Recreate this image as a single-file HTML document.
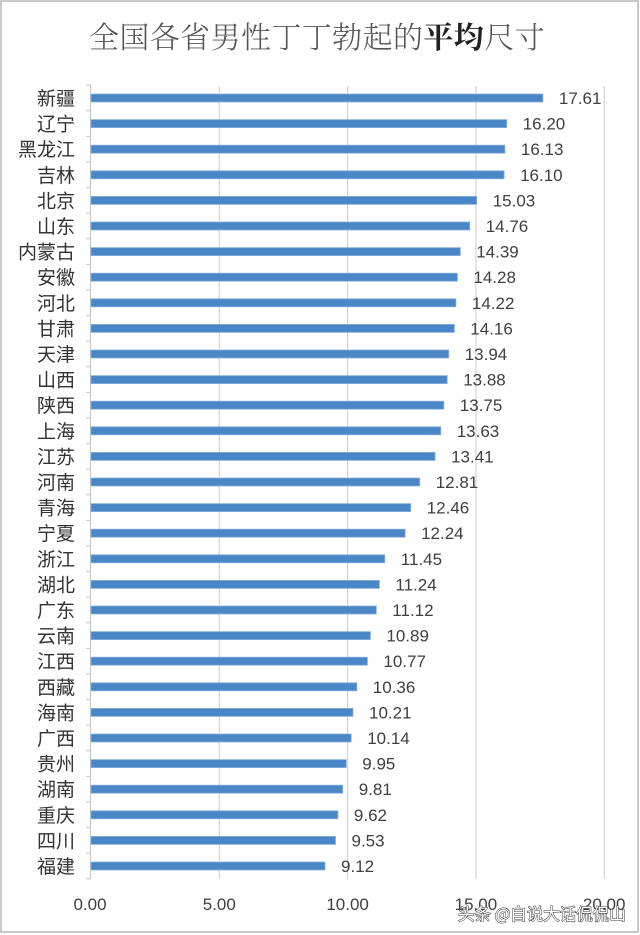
<!DOCTYPE html>
<html><head><meta charset="utf-8"><style>
html,body{margin:0;padding:0;background:#fff;}
svg{display:block;}
text{font-family:"Liberation Sans","Noto Sans CJK SC",sans-serif;}
.c{font-family:"Noto Sans CJK SC",sans-serif;font-size:19px;fill:#333;text-anchor:end;}
.v{font-size:17px;fill:#404040;}
.b{fill:#4a86c8;stroke:#86b1de;stroke-width:0.8;}
.t{stroke:#c4c4c4;stroke-width:1;}
</style></head><body>
<svg width="640" height="935" viewBox="0 0 640 935" xmlns="http://www.w3.org/2000/svg">
<rect x="0" y="0" width="640" height="935" fill="#ffffff"/>
<rect x="1" y="1" width="637" height="931" fill="none" stroke="#c9c9c9" stroke-width="2"/>
<text x="317" y="48" text-anchor="middle" font-size="30" fill="#555" style="font-family:'Noto Serif CJK SC','Noto Sans CJK SC',serif;letter-spacing:0.4px;font-weight:300">全国各省男性丁丁勃起的<tspan fill="#222" font-weight="700">平均</tspan>尺寸</text>
<g stroke="#d6d6d6" stroke-width="1.2">
<line x1="219.3" y1="86" x2="219.3" y2="879"/>
<line x1="347.6" y1="86" x2="347.6" y2="879"/>
<line x1="475.9" y1="86" x2="475.9" y2="879"/>
<line x1="604.2" y1="86" x2="604.2" y2="879"/>
</g>
<line x1="90.5" y1="85" x2="90.5" y2="879" stroke="#c4c4c4" stroke-width="1"/>

<g transform="translate(0,98)"><line class="t" x1="86" y1="-12.8" x2="90.5" y2="-12.8"/><rect class="b" x="91" y="-4" width="451.9" height="8"/><text class="v" x="558.9" y="6">17.61</text><text class="c" x="75" y="7">新疆</text></g>
<g transform="translate(0,123.6)"><line class="t" x1="86" y1="-12.8" x2="90.5" y2="-12.8"/><rect class="b" x="91" y="-4" width="415.7" height="8"/><text class="v" x="522.7" y="6">16.20</text><text class="c" x="75" y="7">辽宁</text></g>
<g transform="translate(0,149.2)"><line class="t" x1="86" y1="-12.8" x2="90.5" y2="-12.8"/><rect class="b" x="91" y="-4" width="413.9" height="8"/><text class="v" x="520.9" y="6">16.13</text><text class="c" x="75" y="7">黑龙江</text></g>
<g transform="translate(0,174.8)"><line class="t" x1="86" y1="-12.8" x2="90.5" y2="-12.8"/><rect class="b" x="91" y="-4" width="413.1" height="8"/><text class="v" x="520.1" y="6">16.10</text><text class="c" x="75" y="7">吉林</text></g>
<g transform="translate(0,200.4)"><line class="t" x1="86" y1="-12.8" x2="90.5" y2="-12.8"/><rect class="b" x="91" y="-4" width="385.7" height="8"/><text class="v" x="492.7" y="6">15.03</text><text class="c" x="75" y="7">北京</text></g>
<g transform="translate(0,226)"><line class="t" x1="86" y1="-12.8" x2="90.5" y2="-12.8"/><rect class="b" x="91" y="-4" width="378.7" height="8"/><text class="v" x="485.7" y="6">14.76</text><text class="c" x="75" y="7">山东</text></g>
<g transform="translate(0,251.6)"><line class="t" x1="86" y1="-12.8" x2="90.5" y2="-12.8"/><rect class="b" x="91" y="-4" width="369.3" height="8"/><text class="v" x="476.2" y="6">14.39</text><text class="c" x="75" y="7">内蒙古</text></g>
<g transform="translate(0,277.2)"><line class="t" x1="86" y1="-12.8" x2="90.5" y2="-12.8"/><rect class="b" x="91" y="-4" width="366.4" height="8"/><text class="v" x="473.4" y="6">14.28</text><text class="c" x="75" y="7">安徽</text></g>
<g transform="translate(0,302.8)"><line class="t" x1="86" y1="-12.8" x2="90.5" y2="-12.8"/><rect class="b" x="91" y="-4" width="364.9" height="8"/><text class="v" x="471.9" y="6">14.22</text><text class="c" x="75" y="7">河北</text></g>
<g transform="translate(0,328.4)"><line class="t" x1="86" y1="-12.8" x2="90.5" y2="-12.8"/><rect class="b" x="91" y="-4" width="363.4" height="8"/><text class="v" x="470.3" y="6">14.16</text><text class="c" x="75" y="7">甘肃</text></g>
<g transform="translate(0,354)"><line class="t" x1="86" y1="-12.8" x2="90.5" y2="-12.8"/><rect class="b" x="91" y="-4" width="357.7" height="8"/><text class="v" x="464.7" y="6">13.94</text><text class="c" x="75" y="7">天津</text></g>
<g transform="translate(0,379.6)"><line class="t" x1="86" y1="-12.8" x2="90.5" y2="-12.8"/><rect class="b" x="91" y="-4" width="356.2" height="8"/><text class="v" x="463.2" y="6">13.88</text><text class="c" x="75" y="7">山西</text></g>
<g transform="translate(0,405.2)"><line class="t" x1="86" y1="-12.8" x2="90.5" y2="-12.8"/><rect class="b" x="91" y="-4" width="352.8" height="8"/><text class="v" x="459.8" y="6">13.75</text><text class="c" x="75" y="7">陕西</text></g>
<g transform="translate(0,430.8)"><line class="t" x1="86" y1="-12.8" x2="90.5" y2="-12.8"/><rect class="b" x="91" y="-4" width="349.8" height="8"/><text class="v" x="456.7" y="6">13.63</text><text class="c" x="75" y="7">上海</text></g>
<g transform="translate(0,456.4)"><line class="t" x1="86" y1="-12.8" x2="90.5" y2="-12.8"/><rect class="b" x="91" y="-4" width="344.1" height="8"/><text class="v" x="451.1" y="6">13.41</text><text class="c" x="75" y="7">江苏</text></g>
<g transform="translate(0,482)"><line class="t" x1="86" y1="-12.8" x2="90.5" y2="-12.8"/><rect class="b" x="91" y="-4" width="328.7" height="8"/><text class="v" x="435.7" y="6">12.81</text><text class="c" x="75" y="7">河南</text></g>
<g transform="translate(0,507.6)"><line class="t" x1="86" y1="-12.8" x2="90.5" y2="-12.8"/><rect class="b" x="91" y="-4" width="319.7" height="8"/><text class="v" x="426.7" y="6">12.46</text><text class="c" x="75" y="7">青海</text></g>
<g transform="translate(0,533.2)"><line class="t" x1="86" y1="-12.8" x2="90.5" y2="-12.8"/><rect class="b" x="91" y="-4" width="314.1" height="8"/><text class="v" x="421.1" y="6">12.24</text><text class="c" x="75" y="7">宁夏</text></g>
<g transform="translate(0,558.8)"><line class="t" x1="86" y1="-12.8" x2="90.5" y2="-12.8"/><rect class="b" x="91" y="-4" width="293.8" height="8"/><text class="v" x="400.8" y="6">11.45</text><text class="c" x="75" y="7">浙江</text></g>
<g transform="translate(0,584.4)"><line class="t" x1="86" y1="-12.8" x2="90.5" y2="-12.8"/><rect class="b" x="91" y="-4" width="288.4" height="8"/><text class="v" x="395.4" y="6">11.24</text><text class="c" x="75" y="7">湖北</text></g>
<g transform="translate(0,610)"><line class="t" x1="86" y1="-12.8" x2="90.5" y2="-12.8"/><rect class="b" x="91" y="-4" width="285.3" height="8"/><text class="v" x="392.3" y="6">11.12</text><text class="c" x="75" y="7">广东</text></g>
<g transform="translate(0,635.6)"><line class="t" x1="86" y1="-12.8" x2="90.5" y2="-12.8"/><rect class="b" x="91" y="-4" width="279.4" height="8"/><text class="v" x="386.4" y="6">10.89</text><text class="c" x="75" y="7">云南</text></g>
<g transform="translate(0,661.2)"><line class="t" x1="86" y1="-12.8" x2="90.5" y2="-12.8"/><rect class="b" x="91" y="-4" width="276.4" height="8"/><text class="v" x="383.4" y="6">10.77</text><text class="c" x="75" y="7">江西</text></g>
<g transform="translate(0,686.8)"><line class="t" x1="86" y1="-12.8" x2="90.5" y2="-12.8"/><rect class="b" x="91" y="-4" width="265.8" height="8"/><text class="v" x="372.8" y="6">10.36</text><text class="c" x="75" y="7">西藏</text></g>
<g transform="translate(0,712.4)"><line class="t" x1="86" y1="-12.8" x2="90.5" y2="-12.8"/><rect class="b" x="91" y="-4" width="262" height="8"/><text class="v" x="369" y="6">10.21</text><text class="c" x="75" y="7">海南</text></g>
<g transform="translate(0,738)"><line class="t" x1="86" y1="-12.8" x2="90.5" y2="-12.8"/><rect class="b" x="91" y="-4" width="260.2" height="8"/><text class="v" x="367.2" y="6">10.14</text><text class="c" x="75" y="7">广西</text></g>
<g transform="translate(0,763.6)"><line class="t" x1="86" y1="-12.8" x2="90.5" y2="-12.8"/><rect class="b" x="91" y="-4" width="255.3" height="8"/><text class="v" x="362.3" y="6">9.95</text><text class="c" x="75" y="7">贵州</text></g>
<g transform="translate(0,789.2)"><line class="t" x1="86" y1="-12.8" x2="90.5" y2="-12.8"/><rect class="b" x="91" y="-4" width="251.7" height="8"/><text class="v" x="358.7" y="6">9.81</text><text class="c" x="75" y="7">湖南</text></g>
<g transform="translate(0,814.8)"><line class="t" x1="86" y1="-12.8" x2="90.5" y2="-12.8"/><rect class="b" x="91" y="-4" width="246.9" height="8"/><text class="v" x="353.9" y="6">9.62</text><text class="c" x="75" y="7">重庆</text></g>
<g transform="translate(0,840.4)"><line class="t" x1="86" y1="-12.8" x2="90.5" y2="-12.8"/><rect class="b" x="91" y="-4" width="244.5" height="8"/><text class="v" x="351.5" y="6">9.53</text><text class="c" x="75" y="7">四川</text></g>
<g transform="translate(0,866)"><line class="t" x1="86" y1="-12.8" x2="90.5" y2="-12.8"/><rect class="b" x="91" y="-4" width="234" height="8"/><text class="v" x="341" y="6">9.12</text><text class="c" x="75" y="7">福建</text><line class="t" x1="86" y1="12.8" x2="90.5" y2="12.8"/></g>

<g font-size="17" fill="#404040" text-anchor="middle">
<text x="90" y="910">0.00</text>
<text x="219.3" y="910">5.00</text>
<text x="347.6" y="910">10.00</text>
<text x="475.9" y="910">15.00</text>
<text x="604.2" y="910">20.00</text>
</g>
<text x="458" y="920" font-size="16.5" fill="#ffffff" stroke="#333" stroke-width="1" paint-order="stroke" style="font-family:'Noto Sans CJK SC',sans-serif">头条 @自说大话侃侃山</text>
</svg>
</body></html>
